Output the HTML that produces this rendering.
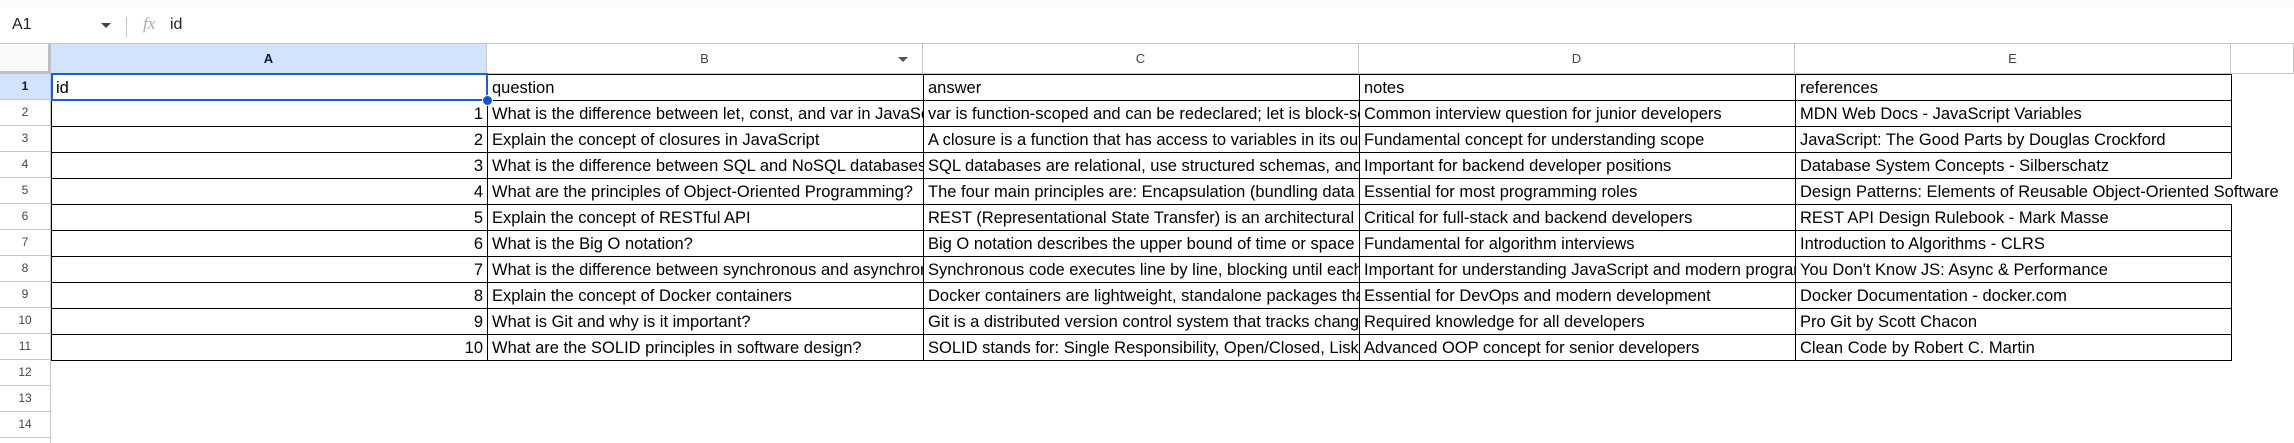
<!DOCTYPE html>
<html><head><meta charset="utf-8">
<style>
*{box-sizing:border-box;margin:0;padding:0}
html,body{width:2294px;height:443px;overflow:hidden}
body{background:#fff;font-family:"Liberation Sans",Arial,sans-serif;position:relative}
.abs{position:absolute}
.topband{left:0;top:0;width:2294px;height:8px;background:#f9fbfd}
.fbar{left:0;top:8px;width:2294px;height:36px;background:#fff;border-bottom:1px solid #c4c7c5}
.colh{top:44px;height:30px;border-right:1px solid #c4c7c5;border-bottom:1px solid #c4c7c5;background:#fff;font-size:13px;color:#444;text-align:center;line-height:29px}
.rowh{left:0;width:51px;height:26px;border-bottom:1px solid #c4c7c5;border-right:1px solid #c4c7c5;background:#fff;font-size:12px;color:#444;text-align:center;line-height:25px}
table{position:absolute;left:51px;top:74px;border-collapse:collapse;table-layout:fixed}
td{width:436px;height:26px;border:1px solid #000;font-size:16.5px;color:#000;white-space:nowrap;overflow:hidden;padding:0 4px;vertical-align:bottom;line-height:24px;max-width:436px}
td.n{text-align:right}
td.ov{overflow:visible;border-right:none}
</style></head><body>
<div class="abs topband"></div>
<div class="abs fbar">
  <div class="abs" style="left:12px;top:8px;font-size:16px;color:#1f1f1f">A1</div>
  <div class="abs" style="left:101px;top:15px;width:0;height:0;border-left:5px solid transparent;border-right:5px solid transparent;border-top:5px solid #444"></div>
  <div class="abs" style="left:126px;top:9px;width:1px;height:20px;background:#c4c7c5"></div>
  <div class="abs" style="left:143px;top:6px;font-family:'Liberation Serif',serif;font-style:italic;font-size:17px;color:#aaa">fx</div>
  <div class="abs" style="left:170px;top:8px;font-size:16px;color:#1f1f1f">id</div>
</div>
<div class="abs" style="left:0;top:44px;width:51px;height:30px;background:#f8f9fa;border-right:3px solid #bdc1c6;border-bottom:3px solid #bdc1c6"></div>
<div class="abs colh" style="left:51px;width:436px;background:#d3e3fd;color:#041e49;font-weight:bold">A</div>
<div class="abs colh" style="left:487px;width:436px">B<div class="abs" style="right:14px;top:13px;width:0;height:0;border-left:5px solid transparent;border-right:5px solid transparent;border-top:5px solid #555"></div></div>
<div class="abs colh" style="left:923px;width:436px">C</div>
<div class="abs colh" style="left:1359px;width:436px">D</div>
<div class="abs colh" style="left:1795px;width:436px">E</div>
<div class="abs colh" style="left:2231px;width:63px"></div>
<div class="abs rowh" style="top:74px;background:#d3e3fd;color:#041e49;font-weight:bold">1</div>
<div class="abs rowh" style="top:100px">2</div>
<div class="abs rowh" style="top:126px">3</div>
<div class="abs rowh" style="top:152px">4</div>
<div class="abs rowh" style="top:178px">5</div>
<div class="abs rowh" style="top:204px">6</div>
<div class="abs rowh" style="top:230px">7</div>
<div class="abs rowh" style="top:256px">8</div>
<div class="abs rowh" style="top:282px">9</div>
<div class="abs rowh" style="top:308px">10</div>
<div class="abs rowh" style="top:334px">11</div>
<div class="abs rowh" style="top:360px">12</div>
<div class="abs rowh" style="top:386px">13</div>
<div class="abs rowh" style="top:412px">14</div>
<div class="abs" style="left:0;top:438px;width:51px;height:5px;border-right:1px solid #c4c7c5"></div>
<table>
<tr><td>id</td><td>question</td><td>answer</td><td>notes</td><td>references</td></tr>
<tr><td class="n">1</td><td>What is the difference between let, const, and var in JavaScript?</td><td>var is function-scoped and can be redeclared; let is block-scoped</td><td>Common interview question for junior developers</td><td>MDN Web Docs - JavaScript Variables</td></tr>
<tr><td class="n">2</td><td>Explain the concept of closures in JavaScript</td><td>A closure is a function that has access to variables in its outer scope</td><td>Fundamental concept for understanding scope</td><td>JavaScript: The Good Parts by Douglas Crockford</td></tr>
<tr><td class="n">3</td><td>What is the difference between SQL and NoSQL databases?</td><td>SQL databases are relational, use structured schemas, and</td><td>Important for backend developer positions</td><td>Database System Concepts - Silberschatz</td></tr>
<tr><td class="n">4</td><td>What are the principles of Object-Oriented Programming?</td><td>The four main principles are: Encapsulation (bundling data</td><td>Essential for most programming roles</td><td class="ov">Design Patterns: Elements of Reusable Object-Oriented Software</td></tr>
<tr><td class="n">5</td><td>Explain the concept of RESTful API</td><td>REST (Representational State Transfer) is an architectural style</td><td>Critical for full-stack and backend developers</td><td>REST API Design Rulebook - Mark Masse</td></tr>
<tr><td class="n">6</td><td>What is the Big O notation?</td><td>Big O notation describes the upper bound of time or space</td><td>Fundamental for algorithm interviews</td><td>Introduction to Algorithms - CLRS</td></tr>
<tr><td class="n">7</td><td>What is the difference between synchronous and asynchronous?</td><td>Synchronous code executes line by line, blocking until each</td><td>Important for understanding JavaScript and modern programming</td><td>You Don't Know JS: Async &amp; Performance</td></tr>
<tr><td class="n">8</td><td>Explain the concept of Docker containers</td><td>Docker containers are lightweight, standalone packages that</td><td>Essential for DevOps and modern development</td><td>Docker Documentation - docker.com</td></tr>
<tr><td class="n">9</td><td>What is Git and why is it important?</td><td>Git is a distributed version control system that tracks changes</td><td>Required knowledge for all developers</td><td>Pro Git by Scott Chacon</td></tr>
<tr><td class="n">10</td><td>What are the SOLID principles in software design?</td><td>SOLID stands for: Single Responsibility, Open/Closed, Liskov</td><td>Advanced OOP concept for senior developers</td><td>Clean Code by Robert C. Martin</td></tr>
</table>
<div class="abs" style="left:51px;top:73px;width:437px;height:28px;border:2px solid #1a5fd6"></div>
<div class="abs" style="left:482px;top:95px;width:11px;height:11px;border-radius:50%;background:#0b57d0;border:1px solid #fff"></div>
</body></html>
